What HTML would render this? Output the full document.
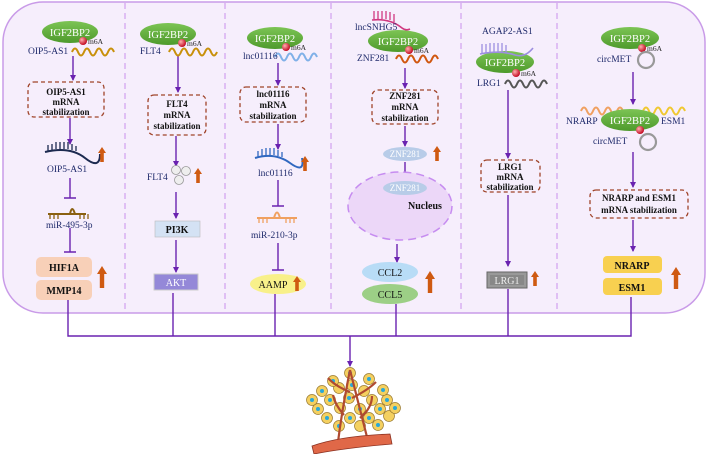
<!DOCTYPE html>
<html><head><meta charset="utf-8"><style>
html,body{margin:0;padding:0;background:#fff;}
svg{display:block;}
text{font-family:"Liberation Serif",serif;}
</style></head><body>
<svg width="708" height="454" viewBox="0 0 708 454" xmlns="http://www.w3.org/2000/svg">
<defs>
<marker id="ar" markerWidth="6" markerHeight="6" refX="5" refY="3" orient="auto" markerUnits="userSpaceOnUse"><path d="M0,0 L6,3 L0,6 z" fill="#6a22b0"/></marker>
<g id="up"><path d="M-4,0 L0,-6 L4,0 L1.8,0 L1.8,9 L-1.8,9 L-1.8,0z" fill="#cf5a12"/></g>
<g id="upb"><path d="M-5,0 L0,-8 L5,0 L2.2,0 L2.2,14 L-2.2,14 L-2.2,0z" fill="#cf5a12"/></g>
<radialGradient id="rd" cx="0.35" cy="0.35" r="0.7"><stop offset="0" stop-color="#ffb0b0"/><stop offset="1" stop-color="#c0001a"/></radialGradient>
<linearGradient id="gr" x1="0" y1="0" x2="0" y2="1"><stop offset="0" stop-color="#7cc454"/><stop offset="1" stop-color="#4e9a2c"/></linearGradient>
</defs>
<rect x="3" y="2" width="702" height="311" rx="40" fill="#f6eefc" stroke="#c99be8" stroke-width="1.5"/>
<g stroke="#d3a6ef" stroke-width="1.3" stroke-dasharray="6,4">
<line x1="125" y1="3" x2="125" y2="312"/><line x1="225" y1="3" x2="225" y2="312"/><line x1="331" y1="3" x2="331" y2="312"/><line x1="461" y1="3" x2="461" y2="312"/><line x1="557" y1="3" x2="557" y2="312"/>
</g>
<g stroke="#6a22b0" stroke-width="1.4" fill="none">
<path d="M68,297 V336 H631 V297 M173,293 V336 M275,294 V336 M396,304 V336 M508,289 V336"/>
<line x1="350" y1="336" x2="350" y2="366" marker-end="url(#ar)"/>
<line x1="73" y1="56" x2="73" y2="80" marker-end="url(#ar)"/>
<line x1="70" y1="118" x2="70" y2="144" marker-end="url(#ar)"/>
<path d="M70,178 V198 M64,198 H76 M70,228 V252 M64,252 H76"/>
<line x1="178" y1="56" x2="178" y2="92" marker-end="url(#ar)"/>
<line x1="176" y1="136" x2="176" y2="166" marker-end="url(#ar)"/>
<line x1="176" y1="192" x2="176" y2="218" marker-end="url(#ar)"/>
<line x1="176" y1="240" x2="176" y2="272" marker-end="url(#ar)"/>
<line x1="278" y1="63" x2="278" y2="85" marker-end="url(#ar)"/>
<line x1="278" y1="124" x2="278" y2="149" marker-end="url(#ar)"/>
<path d="M278,180 V206 M272,206 H284 M278,243 V270 M272,270 H284"/>
<line x1="405" y1="68" x2="405" y2="88" marker-end="url(#ar)"/>
<line x1="405" y1="126" x2="405" y2="146" marker-end="url(#ar)"/>
<line x1="405" y1="162" x2="405" y2="184" marker-end="url(#ar)"/>
<line x1="395" y1="206" x2="395" y2="222" marker-end="url(#ar)"/>
<line x1="397" y1="244" x2="397" y2="262" marker-end="url(#ar)"/>
<line x1="508" y1="90" x2="508" y2="158" marker-end="url(#ar)"/>
<line x1="508" y1="195" x2="508" y2="266" marker-end="url(#ar)"/>
<line x1="633" y1="72" x2="633" y2="104" marker-end="url(#ar)"/>
<line x1="633" y1="152" x2="633" y2="187" marker-end="url(#ar)"/>
<line x1="633" y1="220" x2="633" y2="251" marker-end="url(#ar)"/>
</g>
<g fill="none" stroke-width="2">
<path d="M72,52 q3,-7 6,0 t6,0 t6,0 t6,0 t6,0 t6,0 t6,0" stroke="#c8900a"/>
<path d="M169,52 q3,-7 6,0 t6,0 t6,0 t6,0 t6,0 t6,0 t6,0 t6,0" stroke="#c8900a"/>
<path d="M275,57 q3,-7 6,0 t6,0 t6,0 t6,0 t6,0 t6,0 t6,0" stroke="#7fb0e8"/>
<path d="M396,59 q3,-7 6,0 t6,0 t6,0 t6,0 t6,0 t6,0 t6,0" stroke="#d0560e"/>
<path d="M505,84 q3,-7 6,0 t6,0 t6,0 t6,0 t6,0 t6,0 t6,0" stroke="#555"/>
<path d="M581,111 q3,-7 6,0 t6,0 t6,0 t6,0 t6,0 t6,0 t6,0" stroke="#f0a060"/>
<path d="M643,111 q3,-7 6,0 t6,0 t6,0 t6,0 t6,0 t6,0 t6,0" stroke="#f0c830"/>
</g>
<g fill="url(#gr)">
<ellipse cx="70" cy="32" rx="28" ry="11"/><ellipse cx="168" cy="34" rx="28" ry="11"/><ellipse cx="275" cy="38" rx="28" ry="11"/>
<ellipse cx="398" cy="41" rx="30" ry="11"/><ellipse cx="505" cy="62" rx="29" ry="11"/><ellipse cx="630" cy="38" rx="29" ry="11"/><ellipse cx="630" cy="120" rx="29" ry="11"/>
</g>
<g fill="#fff" font-size="10.5" text-anchor="middle">
<text x="70" y="36">IGF2BP2</text><text x="168" y="38">IGF2BP2</text><text x="275" y="42">IGF2BP2</text><text x="398" y="45">IGF2BP2</text><text x="505" y="66">IGF2BP2</text><text x="630" y="42">IGF2BP2</text><text x="630" y="124">IGF2BP2</text>
</g>
<g fill="url(#rd)">
<circle cx="83" cy="41" r="4"/><circle cx="182" cy="43" r="4"/><circle cx="286" cy="47" r="4"/><circle cx="409" cy="50" r="4"/><circle cx="516" cy="73" r="4"/><circle cx="642" cy="48" r="4"/><circle cx="640" cy="130" r="4"/>
</g>
<g fill="#222" font-size="7.5"><text x="88" y="44">m6A</text><text x="187" y="46">m6A</text><text x="291" y="50">m6A</text><text x="414" y="53">m6A</text><text x="521" y="76">m6A</text><text x="647" y="51">m6A</text></g>
<g fill="none" stroke="#999" stroke-width="2.2"><circle cx="646" cy="60" r="8"/><circle cx="648" cy="142" r="8"/></g>
<g fill="none" stroke-width="1.3">
<path d="M45,152 Q70,146 85,158 T100,154" stroke="#1c2a50" stroke-width="2"/>
<path d="M48,151 v-6 M52,150 v-6 M56,149 v-7 M60,149 v-7 M64,149 v-7 M68,149 v-7 M72,150 v-6 M76,151 v-5" stroke="#1c2a50"/>
<path d="M255,158 Q275,152 290,163 T302,158" stroke="#3068c0" stroke-width="2"/>
<path d="M258,157 v-6 M262,156 v-7 M266,155 v-7 M270,155 v-7 M274,155 v-7 M278,156 v-6 M282,157 v-5" stroke="#3068c0"/>
<path d="M48,214 h38 M70,214 q2,-10 5,0" stroke="#8a6010" stroke-width="2"/>
<path d="M50,214 v5 M54,214 v5 M58,214 v5 M80,214 v5 M84,214 v5 M88,214 v5" stroke="#8a6010"/>
<path d="M257,218 h40 M274,218 q3,-11 6,0" stroke="#f0a060" stroke-width="2"/>
<path d="M259,218 v5 M263,218 v5 M267,218 v5 M286,218 v5 M290,218 v5 M294,218 v5" stroke="#f0a060"/>
<path d="M372,20 Q390,18 402,28 q4,3 8,1" stroke="#d03880" stroke-width="1.6"/>
<path d="M374,19 v-8 M378,19 v-8 M382,19 v-8 M386,19 v-8 M390,20 v-8 M394,22 v-8" stroke="#d03880"/>
<path d="M480,54 Q500,50 515,55 Q525,58 533,48" stroke="#9c8ee0" stroke-width="1.6"/>
<path d="M482,53 v-9 M486,53 v-9 M490,52 v-9 M494,52 v-9 M498,52 v-9 M502,52 v-9 M506,53 v-8" stroke="#9c8ee0"/>
<path d="M352,200 q6,-9 12,0 t12,0 t12,0 t12,0 M352,200 q6,9 12,0 t12,0 t12,0 t12,0" stroke="#f0a060"/>
</g>
<g fill="#1f2a6b" font-size="9.5">
<text x="28" y="54">OIP5-AS1</text><text x="47" y="172">OIP5-AS1</text><text x="46" y="228">miR-495-3p</text>
<text x="140" y="54">FLT4</text><text x="147" y="180">FLT4</text>
<text x="243" y="59">lnc01116</text><text x="258" y="176">lnc01116</text><text x="251" y="238">miR-210-3p</text>
<text x="355" y="30">lncSNHG5</text><text x="357" y="61">ZNF281</text><text x="365" y="229">CCL2 and CCL5</text>
<text x="482" y="34">AGAP2-AS1</text><text x="477" y="86">LRG1</text>
<text x="597" y="62">circMET</text><text x="566" y="124">NRARP</text><text x="661" y="124">ESM1</text><text x="593" y="144">circMET</text>
</g>
<g fill="#eee" stroke="#999" stroke-width="0.8"><circle cx="176" cy="170" r="4.5"/><circle cx="186" cy="171" r="4.5"/><circle cx="179" cy="180" r="4.5"/></g>
<g fill="none" stroke="#a0442a" stroke-width="1.3" stroke-dasharray="4,3">
<rect x="28" y="82" width="76" height="35" rx="6"/><rect x="148" y="95" width="58" height="40" rx="6"/><rect x="240" y="87" width="66" height="35" rx="6"/>
<rect x="372" y="90" width="66" height="34" rx="6"/><rect x="481" y="160" width="59" height="32" rx="6"/><rect x="590" y="190" width="98" height="28" rx="6"/>
</g>
<g fill="#111" font-size="9" font-weight="bold" text-anchor="middle">
<text x="66" y="95">OIP5-AS1</text><text x="66" y="105">mRNA</text><text x="66" y="115">stabilization</text>
<text x="177" y="107">FLT4</text><text x="177" y="118">mRNA</text><text x="177" y="129">stabilization</text>
<text x="273" y="97">lnc01116</text><text x="273" y="108">mRNA</text><text x="273" y="119">stabilization</text>
<text x="405" y="99">ZNF281</text><text x="405" y="110">mRNA</text><text x="405" y="121">stabilization</text>
<text x="510" y="170">LRG1</text><text x="510" y="180">mRNA</text><text x="510" y="190">stabilization</text>
<text x="639" y="201">NRARP and ESM1</text><text x="639" y="213">mRNA stabilization</text>
</g>
<ellipse cx="400" cy="206" rx="52" ry="34" fill="#ecd7f8" stroke="#c68cf0" stroke-width="1.5" stroke-dasharray="8,5"/>
<g fill="#b8cce8"><ellipse cx="405" cy="154" rx="22" ry="7"/><ellipse cx="405" cy="188" rx="22" ry="7"/></g>
<g fill="#fff" font-size="9" text-anchor="middle"><text x="405" y="157">ZNF281</text><text x="405" y="191">ZNF281</text></g>
<text x="408" y="209" font-size="10" font-weight="bold" fill="#111">Nucleus</text>
<rect x="36" y="257" width="56" height="20" rx="5" fill="#f8d0b8"/><rect x="36" y="280" width="56" height="20" rx="5" fill="#f8d0b8"/>
<rect x="155" y="221" width="45" height="16" fill="#d4e2f4" stroke="#bbb" stroke-width="0.6"/>
<rect x="154" y="274" width="44" height="16" fill="#9488d8" stroke="#ccc"/>
<ellipse cx="278" cy="284" rx="28" ry="10" fill="#f8f08a"/>
<ellipse cx="390" cy="272" rx="28" ry="10" fill="#b8dcf6"/><ellipse cx="390" cy="294" rx="28" ry="10" fill="#9ccf86"/>
<rect x="487" y="272" width="40" height="16" fill="#999" stroke="#666"/><rect x="490" y="275" width="34" height="10" fill="#888"/>
<rect x="603" y="256" width="59" height="17" rx="4" fill="#f8d050"/><rect x="603" y="278" width="59" height="17" rx="4" fill="#f8d050"/>
<g font-size="10" font-weight="bold" fill="#111" text-anchor="middle">
<text x="64" y="271">HIF1A</text><text x="64" y="294">MMP14</text><text x="177" y="233">PI3K</text>
<text x="273" y="288" font-weight="normal">AAMP</text><text x="390" y="276" font-weight="normal">CCL2</text><text x="390" y="298" font-weight="normal">CCL5</text>
<text x="632" y="269">NRARP</text><text x="632" y="291">ESM1</text>
</g>
<text x="176" y="286" font-size="10" fill="#fff" text-anchor="middle">AKT</text>
<text x="507" y="284" font-size="10" fill="#eee" text-anchor="middle">LRG1</text>
<use href="#up" x="102" y="153"/><use href="#up" x="198" y="174"/><use href="#up" x="305" y="162"/><use href="#up" x="297" y="282"/>
<use href="#up" x="437" y="152"/><use href="#up" x="535" y="277"/>
<use href="#upb" x="102" y="274"/><use href="#upb" x="430" y="279"/><use href="#upb" x="676" y="275"/>
<!-- tumor -->
<g fill="#f4d060" stroke="#9a7a30" stroke-width="0.7">
<circle cx="322" cy="391" r="5.5"/><circle cx="330" cy="400" r="5.5"/><circle cx="318" cy="409" r="5.5"/><circle cx="327" cy="418" r="5.5"/><circle cx="339" cy="426" r="5.5"/><circle cx="340" cy="408" r="5.5"/>
<circle cx="350" cy="418" r="5.5"/><circle cx="360" cy="426" r="5.5"/><circle cx="369" cy="418" r="5.5"/><circle cx="378" cy="425" r="5.5"/><circle cx="380" cy="409" r="5.5"/><circle cx="389" cy="416" r="5.5"/>
<circle cx="387" cy="400" r="5.5"/><circle cx="383" cy="390" r="5.5"/><circle cx="372" cy="400" r="5.5"/><circle cx="360" cy="409" r="5.5"/><circle cx="349" cy="398" r="5.5"/><circle cx="339" cy="388" r="5.5"/>
<circle cx="352" cy="385" r="5.5"/><circle cx="364" cy="391" r="5.5"/><circle cx="369" cy="379" r="5.5"/><circle cx="350" cy="373" r="5.5"/><circle cx="333" cy="381" r="5.5"/><circle cx="312" cy="400" r="5.5"/><circle cx="395" cy="408" r="5.5"/>
</g>
<g fill="#2aa8d8"><circle cx="322" cy="391" r="2"/><circle cx="330" cy="400" r="2"/><circle cx="318" cy="409" r="2"/><circle cx="327" cy="418" r="2"/><circle cx="350" cy="418" r="2"/><circle cx="369" cy="418" r="2"/><circle cx="380" cy="409" r="2"/><circle cx="387" cy="400" r="2"/><circle cx="360" cy="409" r="2"/><circle cx="349" cy="398" r="2"/><circle cx="352" cy="385" r="2"/><circle cx="369" cy="379" r="2"/><circle cx="350" cy="373" r="2"/><circle cx="339" cy="426" r="2"/><circle cx="378" cy="425" r="2"/><circle cx="312" cy="400" r="2"/><circle cx="395" cy="408" r="2"/><circle cx="383" cy="390" r="2"/><circle cx="333" cy="381" r="2"/></g>
<g fill="none" stroke="#b04a30" stroke-width="2.2"><path d="M338,442 Q342,410 350,370 M368,441 Q360,410 350,370 M350,392 Q335,386 328,378 M352,398 Q368,390 376,382 M344,415 Q335,405 333,395 M360,418 Q372,408 372,396"/></g>
<path d="M312,446 Q340,436 390,434 L392,444 Q345,448 314,454z" fill="#e06848" stroke="#8a3020" stroke-width="0.8"/>
</svg>
</body></html>
